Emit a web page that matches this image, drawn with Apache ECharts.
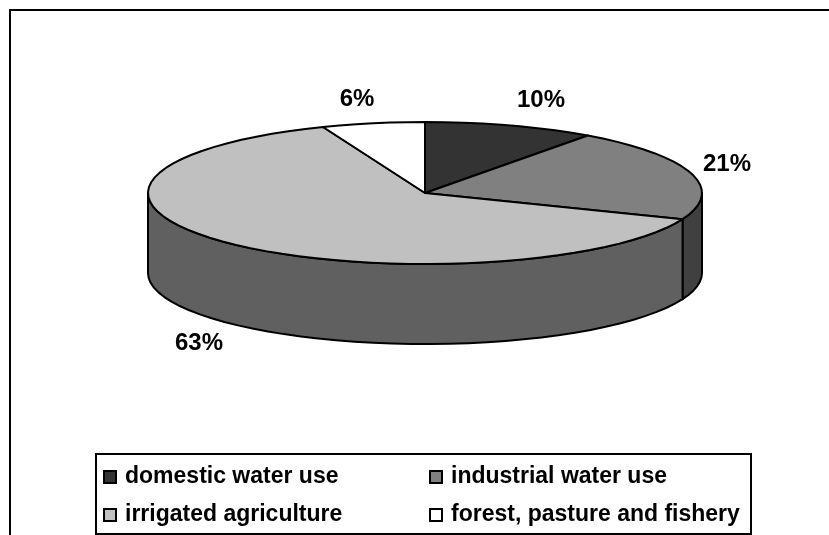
<!DOCTYPE html>
<html>
<head>
<meta charset="utf-8">
<style>html,body{margin:0;padding:0;background:#fff}#chart{width:829px;height:535px}</style>
<script src="https://cdn.jsdelivr.net/npm/echarts@6/dist/echarts.min.js"></script>
</head>
<body>
<div id="chart"></div>
<script>
// Water withdrawal by sector, drawn as a tilted pie with a visible rim.
const categories = ['domestic water use', 'industrial water use', 'irrigated agriculture', 'forest, pasture and fishery'];
const shares = [10, 21, 63, 6];
const topColors = ['#333333', '#808080', '#c0c0c0', '#ffffff'];
const rimColors = ['#1f1f1f', '#404040', '#606060', '#999999'];
const labelOffsets = [[116, -93], [302, -29], [-226, 150], [-68, -94]];
const legendTextWidths = [304, 300, 304, 300];

const FONT = '"Liberation Sans", Arial, sans-serif';
const cx = 425, cy = 193, rx = 277, ry = 71, depth = 80;
const total = shares.reduce((a, b) => a + b, 0);
const STEP = 4 * Math.PI / 180;

// Angles run clockwise from twelve o'clock.
const rimPoint = (a, drop) => [cx + rx * Math.sin(a), cy - ry * Math.cos(a) + drop];

function arcPoints(a0, a1, drop) {
  const pts = [];
  const n = Math.max(1, Math.ceil((a1 - a0) / STEP));
  for (let i = 0; i <= n; i++) pts.push(rimPoint(a0 + (a1 - a0) * i / n, drop));
  return pts;
}

function sliceBounds(index) {
  const before = shares.slice(0, index).reduce((a, b) => a + b, 0);
  return [before / total * 2 * Math.PI, (before + shares[index]) / total * 2 * Math.PI];
}

function renderSlice(index) {
  const [a0, a1] = sliceBounds(index);
  const children = [];
  const outline = { stroke: '#000', lineWidth: 2, lineJoin: 'round' };

  // The rim is only visible along the front half of the ellipse.
  const f0 = Math.max(a0, Math.PI / 2), f1 = Math.min(a1, 3 * Math.PI / 2);
  if (f1 > f0) {
    const top = arcPoints(f0, f1, 0);
    const bottom = arcPoints(f0, f1, depth).reverse();
    children.push({
      type: 'polygon',
      shape: { points: top.concat(bottom) },
      style: Object.assign({ fill: rimColors[index] }, outline)
    });
  }

  children.push({
    type: 'polygon',
    shape: { points: [[cx, cy]].concat(arcPoints(a0, a1, 0)) },
    style: Object.assign({ fill: topColors[index] }, outline)
  });

  const off = labelOffsets[index];
  children.push({
    type: 'text',
    style: {
      x: cx + off[0], y: cy + off[1],
      text: shares[index] + '%',
      fill: '#000',
      font: 'bold 24px ' + FONT,
      align: 'center', verticalAlign: 'middle'
    }
  });
  return { type: 'group', children };
}

const series = categories.map((name, i) => ({
  type: 'custom',
  name,
  coordinateSystem: 'none',
  data: [shares[i]],
  itemStyle: { color: topColors[i] },
  silent: true,
  animation: false,
  renderItem: () => renderSlice(i)
}));

const chart = echarts.init(document.getElementById('chart'), null, { renderer: 'canvas' });
chart.setOption({
  backgroundColor: '#ffffff',
  animation: false,
  legend: {
    left: 96, top: 454,
    width: 700,
    data: categories.map((name, i) => ({
      name,
      itemStyle: { borderColor: '#000', borderWidth: 2 },
      textStyle: { width: legendTextWidths[i] }
    })),
    icon: 'rect',
    itemWidth: 12, itemHeight: 12,
    itemGap: 0,
    padding: [4, 0, 0, 7],
    borderColor: '#000', borderWidth: 2,
    backgroundColor: '#fff',
    selectedMode: false,
    textStyle: {
      fontFamily: FONT, fontWeight: 'bold', fontSize: 23, color: '#000',
      lineHeight: 38, overflow: 'none', padding: [0, 0, 0, 4]
    }
  },
  graphic: [{
    type: 'polyline',
    silent: true,
    shape: { points: [[10, 540], [10, 10], [835, 10]] },
    style: { stroke: '#000', lineWidth: 2, fill: null }
  }],
  series
});
</script>
</body>
</html>
